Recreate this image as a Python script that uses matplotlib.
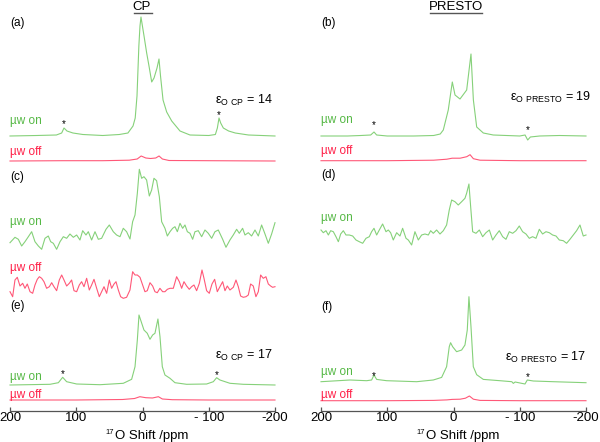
"""
17O DNP spectra, CP vs PRESTO, microwave on/off (six stacked panels).
"""

import matplotlib
matplotlib.use("Agg")
import matplotlib.pyplot as plt

plt.rcParams["font.family"] = ["Liberation Sans", "DejaVu Sans"]
plt.rcParams["mathtext.fontset"] = "custom"
plt.rcParams["mathtext.rm"] = "Liberation Sans"

GREEN_LINE = "#86d17a"
GREEN_TEXT = "#55b845"
RED_LINE = "#ff5878"
RED_TEXT = "#ff2048"

# ---- data: chemical shift (ppm) and intensity (arbitrary, pixel-like units) ----
# (a) CP, mw on
a_on_ppm = [200, 160, 130, 122, 118.5, 114, 105, 90, 60, 35, 22, 14.3, 11, 8.3, 5.5, 3.8, 2.3,
            -2.3, -6.3, -9.8, -13.9, -17.4, -21.9, -24.9, -27.2, -31, -36.5, -44.1, -56.6, -71.7,
            -100, -110, -113, -115.5, -118, -122, -130, -140, -160, -200]
a_on_int = [0, 0.5, 1, 3, 8, 5, 3, 1.5, 0.5, 1.5, 3, 10, 18, 40, 90, 110, 119,
            100, 83, 70, 54, 58, 68, 77, 60, 36, 24, 15, 5, 1,
            0.5, 1.5, 8, 18, 13, 8, 5, 3, 1, 0]
# (a) CP, mw off
a_off_ppm = [200, 120, 60, 20, 8, 2, -5, -12, -20, -25, -30, -40, -100, -200]
a_off_int = [0, 0.3, 0.3, 0.8, 2, 5, 3, 2.5, 3, 5, 2, 0.5, 0.3, 0]

# (b) PRESTO, mw on
b_on_ppm = [200, 160, 140, 125, 120, 116, 100, 60, 30, 20, 15.4, 7.9, 1.8, -2.3, -9.8, -19.9,
            -26.4, -30, -35, -45, -60, -100, -108, -112, -116, -130, -160, -200]
b_on_int = [0, 0, 0.5, 1, 4, 1, 0, 0, 0.5, 2, 6, 26, 54, 41, 37, 46,
            82, 36, 9, 3, 1, 0, 1, -4, -1, 0, 0.5, 0]
# (b) PRESTO, mw off
b_off_ppm = [200, 100, 30, 10, 2, -10, -20, -25, -30, -40, -100, -200]
b_off_int = [0, 0, 0.5, 1.5, 2.5, 2.5, 4, 6, 2, 0.5, 0, 0]

# (c) CP, mw on (noisy)
c_on_ppm = [200, 192.5, 187.4, 182.4, 177.4, 172.3, 167.3, 162.3, 157.2, 152.2, 147.2, 142.2,
            138.6, 134.6, 129.6, 124.5, 119.5, 114.5, 109.5, 104.4, 99.4, 94.4, 90.3, 85.3,
            81.8, 76.8, 71.7, 66.7, 61.7, 55.1, 50.1, 44.1, 39.1, 34, 29, 24, 18.9, 14.9,
            11.3, 7.8, 4.8, 1.3, -2.2, -6.2, -10.3, -13.8, -17.3, -21.3, -25.4, -28.9, -33.9,
            -37.5, -41.5, -45.5, -49, -52.6, -56.6, -60.6, -64.1, -67.7, -71.7, -75.7, -79.2,
            -84.2, -89.3, -94.3, -99.3, -104.4, -109.4, -114.4, -121, -126, -132, -137,
            -142.1, -146.1, -151.1, -154.7, -159.7, -164.7, -169.8, -174.8, -179.8, -184.9,
            -189.9, -194.9, -200]
c_on_int = [-4.7, 0.7, -1.3, -8, -3.7, 1.3, 6.3, -3.7, -8, -11.3, -0.3, 2,
            -3.7, -5.3, -11.3, -3.7, 1.3, -0.3, 4, 0.7, 3, -2, 7.3, 3,
            6.3, -2, 6.3, -1.3, -0.3, 8.7, 13, 6.3, 3, 1.3, 9.7, 6.3, -1, 16.3,
            23, 44.7, 68.7, 59.7, 61.3, 58, 42, 48, 59.7, 57.3, 41.3, 16.3, 9.7,
            2, 6.3, 9.7, 11.3, 6.3, 14.7, 9.7, 13, 6.3, 4.7, -1.3, 6.3,
            7.3, 1.3, 8, 4.7, -0.3, 6.3, 8, -1.3, -9.3, -2, 3,
            8.7, 4.7, 9.7, 3, 5.3, 2, 8, 2, 13, 4,
            -5.3, 4, 15.3]
# (c) CP, mw off (noise only)
c_off_ppm = [200, 196, 192.5, 189, 184.9, 180.9, 177.4, 173.9, 169.8, 165.8, 162.3, 158.8,
             155.7, 152.2, 148.7, 144.7, 140.6, 137.1, 133.6, 129.6, 125.6, 122, 118.5, 114.5,
             110.5, 107, 103.4, 99.4, 95.4, 91.9, 88.3, 84.3, 80.3, 76.8, 73.2, 69.2, 65.2,
             61.7, 58.1, 54.1, 50.1, 46.6, 43, 40, 36.5, 33, 29, 24, 18.9, 14.9, 11.3, 7.8,
             3.8, -0.2, -3.7, -7.2, -11.3, -15.3, -18.8, -22.3, -26.3, -30.4, -33.9, -37.5,
             -41.5, -46.5, -51.5, -55.6, -59.1, -62.6, -66.6, -70.6, -74.1, -77.7, -81.7,
             -85.8, -89.8, -92.8, -96.8, -100.8, -104.9, -108.9, -112.9, -116.9, -121, -124.5,
             -128, -132, -137.1, -141.1, -144.6, -148.1, -152.1, -156.2, -159.7, -163.2,
             -167.2, -171.2, -174.8, -178.3, -182.3, -186.3, -189.9, -193.4, -196.4, -200]
c_off_int = [-1.7, -6.7, 10, 12.7, 4, 6.7, 1.7, 6, -1.7, -3.3, 5, 10.7,
             13.3, 11.7, 8.3, 1.7, 3.3, 7.3, 3.3, -0.7, 10, 15, 10, 4,
             6.7, 10, -0.7, -1.7, 5, 8.3, 3.3, 11.7, 0, 5, 10.7, 1.7, -6.7,
             -1.7, 3.3, -3.3, 10, 1.7, 6, 8.3, 0, -6.7, -8.3, -7.3, 0, 18.3, 15, 15,
             12.7, 5, -1.7, -0.7, 7.3, 4, -1.7, -2.7, 1.7, -1.7, -1.7, 0.7,
             1.7, 1.7, 13.3, 8.3, 1.7, 8.3, 4, 0.7, 3.3, 5, -0.7,
             6.7, 20, 11.7, -0.7, -3.3, 6, 10.7, -1.7, 3.3, 8.3, -0.7,
             4, 0, 2.7, 10, 3.3, -6, -7.3, -6.7, -5, 6,
             4, -6.7, -1.7, 15, 11.7, 13.3, 6, 4, 2.7, 3.3]

# (d) PRESTO, mw on (noisy)
d_on_ppm = [200, 196.5, 192.5, 188.9, 185.4, 181.4, 177.4, 173.8, 170.3, 166.3, 162.3, 157.2,
            152.2, 147.2, 142.2, 137.1, 132.1, 127.1, 123.6, 120, 116, 112, 107, 101.9, 98.4,
            94.9, 90.9, 85.8, 80.8, 76.8, 71.7, 68.2, 63.2, 58.2, 53.1, 48.1, 43.1, 38, 34.5,
            30.5, 25.5, 20.4, 15.4, 10.4, 6.4, 2.8, -2.2, -7.2, -12.3, -17.3, -19.8, -23.3,
            -25.9, -28.9, -33.9, -39, -44, -49, -54.1, -59.1, -64.1, -69.1, -74.2, -79.2,
            -84.2, -89.3, -94.3, -99.3, -104.3, -109.4, -114.4, -119.4, -124.5, -129.5,
            -134.5, -139.6, -144.6, -149.6, -154.7, -159.7, -165.7, -170.7, -175.8, -180.8,
            -185.8, -190.9, -195.9, -200]
d_on_int = [5, 2.3, 4.3, 0, 4.3, 3.3, -1.7, -6.7, 1, 4.3, 0, 0,
            -1, -5, -6.7, -8.3, -3.3, -1.7, 3.3, 6.7, 0, 5, 11, 3.3, 5,
            2.3, -5, 2.3, -1, 6.7, -3.3, -5, -10, 3.3, -5, 0, 1, 0, 4.3,
            1.7, 5, 1, 4.3, 10, 25, 35, 33.3, 30, 33.3, 36.7, 41.7, 51,
            28.3, 3.3, 1.7, 5, -1.7, 2.3, 5, -5, 0, 4.3, -1.7, -4.3,
            3.3, 1.7, 4.3, 9, 3.3, 1, -3.3, -1.7, -3.3, 5.7,
            1, 3.3, 2.3, 0, -1, -5, -5.7, -8.3, -4.3, 0,
            4.3, 10, -1, 0]

# (e) CP, mw on
e_on_ppm = [200, 139.6, 127, 120.5, 114.5, 99.4, 64.2, 29, 16.4, 11.3, 7.8, 5.3, 2.8, -2.2,
            -7.2, -11.3, -15.3, -18.8, -23.3, -26.4, -29.9, -33.9, -41.5, -49, -66.6, -96.8,
            -106.9, -111.9, -116.9, -132, -152.1, -200]
e_on_int = [0, 0.7, 2.3, 7.7, 3.3, 1, 0.3, 1.7, 5.7, 18.3, 45, 70, 65, 55,
            51.7, 45.7, 50, 51.7, 66, 48.3, 18.3, 10, 6.7, 2.3, 0.7, 1,
            3.3, 7.3, 5, 1.7, 0.7, 0]
# (e) CP, mw off
e_off_ppm = [200, 100, 30, 12, 4, -5, -15, -24, -30, -45, -100, -200]
e_off_int = [0, 0, 0.5, 1.5, 3.3, 2.3, 2, 3.3, 1, 0.3, 0, 0]

# (f) PRESTO, mw on
f_on_ppm = [200, 156.2, 131.1, 123.6, 120, 116, 100.9, 55.6, 30.5, 17.9, 10.4, 6.4, 4.4, 1.3,
            -4.7, -12.3, -17.3, -20.8, -23.3, -26.4, -29.9, -35, -45, -70.1, -88, -90.3, -93,
            -107.9, -111.4, -120.4, -150.6, -200]
f_on_int = [1, 2.7, 2, 2.7, 7.7, 3.3, 2, 1, 2.7, 5.3, 16, 36, 40, 36,
            31, 32.7, 37.7, 52.7, 86, 56, 16, 8, 3.3, 2, 1, -0.7, 0.7,
            -1.3, 2.7, 1.7, 1, 0]
# (f) PRESTO, mw off
f_off_ppm = [200, 100, 30, 10, 2, -10, -18, -24, -30, -40, -100, -200]
f_off_int = [0, 0, 0.3, 0.8, 1.3, 1.5, 2.5, 4.7, 1.5, 0.3, 0, 0]

TICKS = [200, 100, 0, -100, -200]
TICK_LABELS = ["200", "100", "0", "- 100", "-200"]

# spinning sideband markers (ppm)
SIDEBANDS_A = [118.5, -115.5]
SIDEBANDS_B = [120, -112]
SIDEBANDS_E = [120.5, -111.9]
SIDEBANDS_F = [120, -111.4]

# figure is laid out in pixel rows: axes y runs from 0 (top) to AXIS_Y (spine)
W, H = 600, 442
AXIS_Y = 410.7


def _make_axis(fig, left_px):
    ax = fig.add_axes([left_px / W, (H - AXIS_Y) / H, 265 / W, AXIS_Y / H])
    ax.set_xlim(200, -200)
    ax.set_ylim(AXIS_Y, 0)
    for side in ("left", "right", "top"):
        ax.spines[side].set_visible(False)
    ax.spines["bottom"].set_color("#555555")
    ax.spines["bottom"].set_linewidth(0.9)
    ax.set_yticks([])
    ax.set_xticks(TICKS)
    ax.set_xticklabels(TICK_LABELS)
    ax.tick_params(axis="x", direction="in", length=3, width=0.9, color="#555555",
                   labelsize=9.5, pad=0.8)
    # axis title drawn by hand so it sits snug under the tick labels
    ax.text(42, 441.5, "O Shift /ppm", fontsize=9.5, ha="left", va="bottom", clip_on=False)
    ax.text(42.5, 432, "17", fontsize=5.5, ha="right", va="center", clip_on=False)
    ax.patch.set_alpha(0)
    return ax


def _trace(ax, ppm, inten, base, color):
    ax.plot(ppm, [base - v for v in inten], color=color, linewidth=0.8, clip_on=False)


def _stars(ax, ppm_list, y_list):
    for p, y in zip(ppm_list, y_list):
        ax.text(p, y, "*", fontsize=7, ha="center", va="center", color="black")


fig = plt.figure(figsize=(6.0, 4.42), dpi=100)
axL = _make_axis(fig, 10)
axR = _make_axis(fig, 321)

# ---- left column: CP ----
axL.text(1, 7, "CP", fontsize=9.5, ha="center", va="center")
axL.plot([13.5, -15], [13, 13], color="#555555", linewidth=1.0)

_trace(axL, a_on_ppm, a_on_int, 136, GREEN_LINE)
_trace(axL, a_off_ppm, a_off_int, 161, RED_LINE)
_trace(axL, c_on_ppm, c_on_int, 238, GREEN_LINE)
_trace(axL, c_off_ppm, c_off_int, 290, RED_LINE)
_trace(axL, e_on_ppm, e_on_int, 385, GREEN_LINE)
_trace(axL, e_off_ppm, e_off_int, 400, RED_LINE)

for lab, y in (("(a)", 23), ("(c)", 177), ("(e)", 306)):
    axL.text(200, y, lab, fontsize=8.5, ha="left", va="center")
for lab, y, col in (("µw on", 121, GREEN_TEXT), ("µw off", 152, RED_TEXT),
                    ("µw on", 222, GREEN_TEXT), ("µw off", 268, RED_TEXT),
                    ("µw on", 377, GREEN_TEXT), ("µw off", 395, RED_TEXT)):
    axL.text(200, y, lab, fontsize=8.5, ha="left", va="center", color=col)

axL.text(-109, 100, r"ε$_\mathregular{O\ CP}$ = 14", fontsize=9, ha="left", va="center")
axL.text(-109, 355, r"ε$_\mathregular{O\ CP}$ = 17", fontsize=9, ha="left", va="center")
_stars(axL, SIDEBANDS_A, [124, 115])
_stars(axL, SIDEBANDS_E, [374, 375])

# ---- right column: PRESTO ----
axR.text(-4, 7, "PRESTO", fontsize=9.5, ha="center", va="center")
axR.plot([35, -43], [13, 13], color="#555555", linewidth=1.0)

_trace(axR, b_on_ppm, b_on_int, 136, GREEN_LINE)
_trace(axR, b_off_ppm, b_off_int, 160.7, RED_LINE)
_trace(axR, d_on_ppm, d_on_int, 235, GREEN_LINE)
_trace(axR, f_on_ppm, f_on_int, 382.7, GREEN_LINE)
_trace(axR, f_off_ppm, f_off_int, 400.7, RED_LINE)

for lab, y in (("(b)", 23), ("(d)", 175), ("(f)", 307)):
    axR.text(200, y, lab, fontsize=8.5, ha="left", va="center")
for lab, y, col in (("µw on", 120, GREEN_TEXT), ("µw off", 151, RED_TEXT),
                    ("µw on", 218, GREEN_TEXT),
                    ("µw on", 372, GREEN_TEXT), ("µw off", 395, RED_TEXT)):
    axR.text(200, y, lab, fontsize=8.5, ha="left", va="center", color=col)

axR.text(-85, 97, r"ε$_\mathregular{O\ PRESTO}$ = 19", fontsize=9, ha="left", va="center")
axR.text(-78, 357, r"ε$_\mathregular{O\ PRESTO}$ = 17", fontsize=9, ha="left", va="center")
_stars(axR, SIDEBANDS_B, [125, 130])
_stars(axR, SIDEBANDS_F, [376, 377])

fig.savefig("out.png", dpi=100)
plt.close(fig)
